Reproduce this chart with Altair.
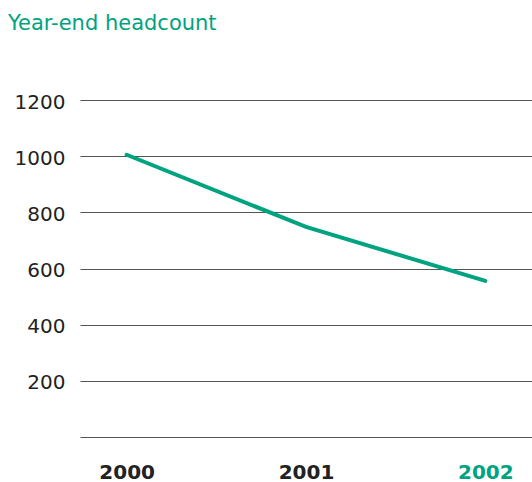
import altair as alt
import pandas as pd

years = ["2000", "2001", "2002"]
headcount = [1005, 748, 556]
y_ticks = [0, 200, 400, 600, 800, 1000, 1200]

GREEN = "#00a380"
FONT = "DejaVu Sans"
df = pd.DataFrame({"year": years, "headcount": headcount})

chart = alt.Chart(df).mark_line(color=GREEN, strokeWidth=4, strokeCap="round").encode(
    x=alt.X("year:O", scale=alt.Scale(type="point", padding=0.26),
            axis=alt.Axis(title=None, domain=False, ticks=False, grid=False,
                          labelAngle=0, labelFontSize=20, labelFontWeight="bold",
                          labelFont=FONT, labelPadding=25, labelBaseline="top",
                          labelColor={"expr": f"datum.value == '2002' ? '{GREEN}' : '#222222'"})),
    y=alt.Y("headcount:Q", scale=alt.Scale(domain=[0, 1200], nice=False, zero=True),
            axis=alt.Axis(title=None, domain=False, ticks=False, grid=True,
                          values=y_ticks, format="d", gridColor="#555555", gridWidth=1, gridOpacity=1,
                          labelFontSize=20, labelFont=FONT, labelColor="#222222",
                          labelPadding=15, labelOffset=2,
                          labelExpr="datum.value == 0 ? '' : datum.label")),
).properties(
    width=452, height=337,
    autosize=alt.AutoSizeParams(type="none"),
    padding={"left": 80, "top": 100, "right": 0, "bottom": 45},
    title=alt.TitleParams("Year-end headcount", anchor="start", frame="group",
                          fontSize=21, font=FONT, fontWeight="normal",
                          color=GREEN, dx=-72, dy=-54),
).configure_view(stroke=None).configure_axis(labelFlush=False, labelOverlap=False)

chart.save("out.html", embed_options={"renderer": "svg", "actions": False})
